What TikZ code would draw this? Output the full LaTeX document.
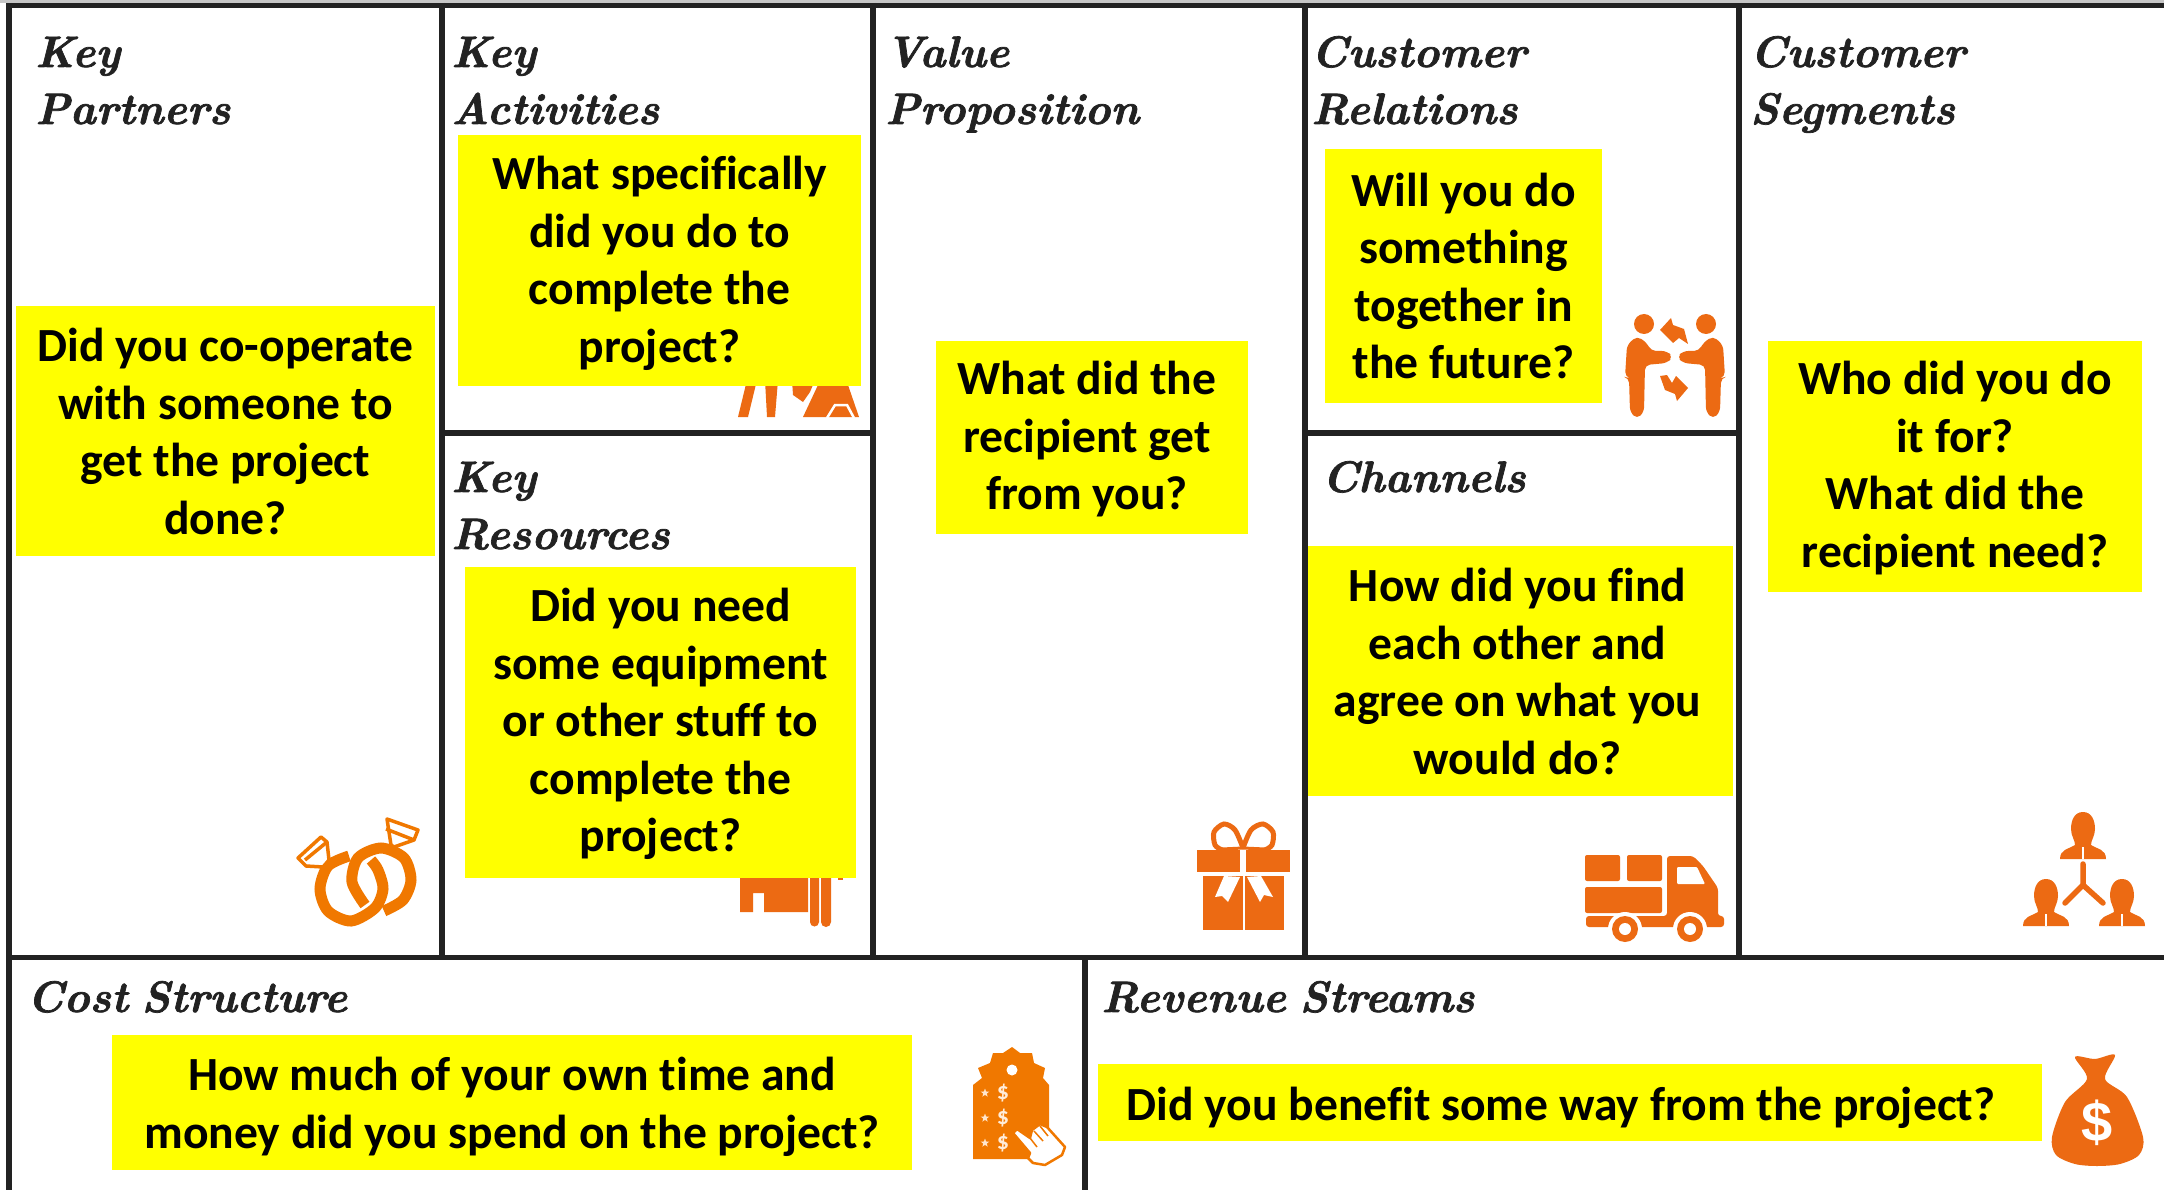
\documentclass[tikz,border=0pt]{standalone}
\usepackage{fontspec}
\usetikzlibrary{shapes.geometric}
\setsansfont{Carlito}[Ligatures=NoCommon]
\newfontfamily\headfont{lmroman10-bolditalic.otf}[WordSpace=0.75,FakeBold=1.6]
\definecolor{ora}{HTML}{EC6A13}
\definecolor{orb}{HTML}{F07800}
\definecolor{gridc}{HTML}{222222}
\definecolor{yel}{HTML}{FFFF00}
\tikzset{
  gridline/.style={draw=gridc,line width=5.5pt},
  yellowbox/.style={fill=yel,inner sep=0pt},
  boxtext/.style={align=center,inner sep=0pt,text=black,font=\sffamily\bfseries\fontsize{47.6}{57.5}\selectfont},
  heading/.style={anchor=base west,inner sep=0pt,xshift=-3pt,text=gridc,font=\headfont\fontsize{44}{58}\selectfont},
  ringline/.style={draw=orb,line width=11pt},
  gemline/.style={draw=orb,line width=3.5pt,line join=round,fill=white},
}
\begin{document}
\begin{tikzpicture}[x=1pt,y=-1pt]
\useasboundingbox (0,0) rectangle (2164,1190);
\fill[white] (0,0) rectangle (2164,1190);
\fill[gray!45] (0,0) rectangle (2164,3);
% ---------- icons ----------
% rings
\draw[ringline] plot[smooth] coordinates {(349,856) (328,866) (320,889) (328,911) (351,921) (375,908) (383,889) (378,870) (371,860)};
\draw[ringline] plot[smooth] coordinates {(365,905) (352,882) (358,858) (381,848) (404,858) (411,880) (403,900) (384,911)};
\draw[gemline] (298,858) -- (321,837) -- (327,842) -- (329,860) -- (323,867) -- (306,866) -- cycle;
\draw[orb,line width=3.5pt] (305,860) -- (327,842);
\draw[gemline] (387,819) -- (418,830) -- (414,840) -- (394,847) -- (391,845) -- cycle;
\draw[orb,line width=3.5pt] (386,829) -- (414,840);
% key activities icon
\fill[ora] (747,380) -- (757,380) -- (748,417) -- (738,417) -- cycle;
\fill[ora] (765,380) -- (778,380) -- (775,417) -- (767,417) -- cycle;
\fill[ora] (792,380) -- (793,395) -- (803,402) -- (810,392) -- (815,380) -- cycle;
\fill[ora] (803,417) -- (818,385) -- (848,385) -- (859,417) -- cycle;
\draw[white,line width=2.5pt] (827,418) -- (835,405) -- (847,405) -- (854,418);
% key resources icon
\fill[ora] (740,870) -- (808,870) -- (808,912) -- (764,912) -- (764,893) -- (753,893) -- (753,912) -- (740,912) -- cycle;
\fill[ora] (810,870) -- (819,870) -- (819,922) arc[start angle=0,end angle=180,radius=4.5] -- cycle;
\fill[ora] (821,870) -- (831,870) -- (831,922) arc[start angle=0,end angle=180,radius=5] -- cycle;
\fill[ora] (838,875) rectangle (843,880);
% gift
\fill[ora] (1197,850) rectangle (1240,872);
\fill[ora] (1246,850) rectangle (1290,872);
\fill[ora] (1203,876) rectangle (1243,930);
\fill[ora] (1245,876) rectangle (1284,930);
\fill[white] (1224,876) -- (1215,897) -- (1222,896) -- (1228,902) -- (1240,877) -- cycle;
\fill[white] (1261,876) -- (1273,897) -- (1264,895) -- (1260,902) -- (1247,877) -- cycle;
\draw[ora,line width=5pt] plot[smooth] coordinates {(1243,848) (1235,830) (1224,824) (1214,832) (1215,845) (1222,850)};
\draw[ora,line width=5pt] plot[smooth] coordinates {(1243,848) (1251,830) (1263,824) (1273,832) (1272,845) (1265,850)};
\draw[ora,line width=3pt] (1243,848) -- (1222,849);
\draw[ora,line width=3pt] (1243,848) -- (1265,849);
% truck
\fill[ora,rounded corners=2pt] (1585,855) rectangle (1620,881);
\fill[ora,rounded corners=2pt] (1627,855) rectangle (1662,881);
\fill[ora,rounded corners=2pt] (1585,887) rectangle (1662,913);
\fill[ora,rounded corners=3pt] (1667,856) -- (1693,856) -- (1703,866) -- (1718,888) -- (1718,916) -- (1724,916) -- (1724,927) -- (1586,927) -- (1586,916) -- (1667,916) -- cycle;
\fill[white,rounded corners=1pt] (1677,867) -- (1697,867) -- (1705,884) -- (1677,884) -- cycle;
\foreach \cx in {1625,1690}{
  \fill[white] (\cx,929) circle[radius=17];
  \fill[ora] (\cx,929) circle[radius=13];
  \fill[white] (\cx,929) circle[radius=6];
}
% segments
\foreach \cx/\cy in {2083/812,2046/879,2122/879}{
  \begin{scope}[shift={(\cx,\cy)}]
    \fill[ora] (0,0) .. controls (9,0) and (12,9) .. (12,17) .. controls (12,24) and (8,28) .. (8,33)
      .. controls (14,37) and (23,37) .. (23,47) -- (-23,47) .. controls (-23,37) and (-14,37) .. (-8,33)
      .. controls (-8,28) and (-12,24) .. (-12,17) .. controls (-12,9) and (-9,0) .. (0,0) -- cycle;
    \draw[white,line width=1.5pt] (0,35) -- (0,47);
  \end{scope}
}
\draw[ora,line width=5.5pt,line cap=round,line join=round] (2083,864) -- (2083,885) -- (2065,903);
\draw[ora,line width=5.5pt,line cap=round,line join=round] (2083,885) -- (2103,903);
% handshake
\foreach \m/\o in {1/0,-1/3350}{
  \begin{scope}[shift={(\o,0)},xscale=\m]
    \fill[ora] (1644,324) circle[radius=10];
    \fill[ora,rounded corners=5pt] (1625,377) -- (1627,345) -- (1637,336) -- (1647,343) -- (1651,351) -- (1667,351) -- (1673,357) -- (1667,363) -- (1645,365) -- (1644,412) -- (1637,419) -- (1630,412) -- (1629,378) -- cycle;
  \end{scope}
}
\fill[ora] (1660,330) -- (1671,318) -- (1673,325) -- (1684,329) -- (1688,344) -- (1679,338) -- (1673,343) -- cycle;
\fill[ora] (1660,376) -- (1667,375) -- (1672,383) -- (1676,376) -- (1688,388) -- (1677,401) -- (1675,394) -- (1665,390) -- cycle;
% price tag
\fill[orb] (973,1085) -- (982,1078) -- (978,1068) -- (990,1063) -- (993,1053) -- (1003,1053) -- (1012,1047) -- (1020,1053) -- (1032,1053) -- (1034,1063) -- (1045,1068) -- (1043,1078) -- (1049,1085) -- (1049,1159) -- (973,1159) -- cycle;
\fill[white] (1012,1070) circle[radius=5.5];
\foreach \yy/\nm in {1093/a,1118/b,1143/c}{
  \node[star,star points=5,star point ratio=2.4,fill=orange!20,inner sep=0pt,minimum size=9pt] (tagstar\nm) at (985,\yy) {};
  \node[text=orange!15,inner sep=0pt,font=\sffamily\bfseries\fontsize{24}{24}\selectfont] (tagusd\nm) at (1003,\yy) {\$};
}
\draw[orb,line width=2.5pt,fill=white,line join=round] (1013,1133) -- (1017,1129) -- (1030,1138) -- (1032,1130) -- (1040,1124) -- (1047,1127) -- (1065,1147) -- (1062,1155) -- (1045,1165) -- (1033,1163) -- (1028,1158) -- (1030,1153) -- cycle;
\draw[orb,line width=1.5pt] (1030,1138) -- (1037,1147) (1034,1131) -- (1043,1141) (1040,1126) -- (1048,1136);
% money bag
\fill[ora] plot[smooth cycle,tension=0.5] coordinates {(2075,1057) (2095,1059) (2115,1055) (2105,1079) (2127,1097) (2143,1137) (2139,1155) (2120,1164) (2097,1166) (2075,1164) (2056,1155) (2052,1137) (2065,1102) (2087,1079)};
\node[text=white,inner sep=0pt,font=\fontspec{Liberation Sans}\bfseries\fontsize{56}{56}\selectfont] (bagusd) at (2097,1123) {\$};
% ---------- grid ----------
\draw[gridline] (6,5.5) -- (2164,5.5);
\draw[gridline] (6,957.5) -- (2164,957.5);
\draw[gridline] (9,3) -- (9,1190);
\draw[gridline] (442,3) -- (442,957);
\draw[gridline] (873,3) -- (873,957);
\draw[gridline] (1305,3) -- (1305,957);
\draw[gridline] (1739,3) -- (1739,957);
\draw[gridline] (1085,957) -- (1085,1190);
\draw[gridline] (442,433) -- (873,433);
\draw[gridline] (1305,433) -- (1739,433);
% ---------- headings ----------
\node[heading] (h1a) at (38,67) {Key};
\node[heading] (h1b) at (38,124) {Partners};
\node[heading] (h2a) at (454,67) {Key};
\node[heading] (h2b) at (454,124) {Activities};
\node[heading] (h3a) at (888,67) {Value};
\node[heading] (h3b) at (888,124) {Proposition};
\node[heading] (h4a) at (1314,67) {Customer};
\node[heading] (h4b) at (1314,124) {Relations};
\node[heading] (h5a) at (1753,67) {Customer};
\node[heading] (h5b) at (1753,124) {Segments};
\node[heading] (h6a) at (454,492) {Key};
\node[heading] (h6b) at (454,549) {Resources};
\node[heading] (h7) at (1325,492) {Channels};
\node[heading] (h8) at (30,1012) {Cost Structure};
\node[heading] (h9) at (1104,1012) {Revenue Streams};
% ---------- yellow boxes ----------
\node[yellowbox,minimum width=419pt,minimum height=250pt] (kp) at (225.5,431) {};
\node[boxtext] (kpt) at (225.5,431.5) {Did you co-operate\\with someone to\\get the project\\done?};
\node[yellowbox,minimum width=403pt,minimum height=251pt] (ka) at (659.5,260.5) {};
\node[boxtext] (kat) at (659.5,263.5) {What specifically\\did you do to\\complete the\\project?};
\node[yellowbox,minimum width=391pt,minimum height=311pt] (kr) at (660.5,722.5) {};
\node[boxtext] (krt) at (660.5,724) {Did you need\\some equipment\\or other stuff to\\complete the\\project?};
\node[yellowbox,minimum width=312pt,minimum height=193pt] (vp) at (1092,437.5) {};
\node[boxtext] (vpt) at (1087,439.5) {What did the\\recipient get\\from you?};
\node[yellowbox,minimum width=277pt,minimum height=254pt] (cr) at (1463.5,276) {};
\node[boxtext] (crt) at (1463.5,276) {Will you do\\something\\together in\\the future?};
\node[yellowbox,minimum width=425pt,minimum height=250pt] (ch) at (1520.5,671) {};
\node[boxtext] (cht) at (1517.5,671.5) {How did you find\\each other and\\agree on what you\\would do?};
\node[yellowbox,minimum width=374pt,minimum height=251pt] (cs) at (1955,466.5) {};
\node[boxtext] (cst) at (1955,468) {Who did you do\\it for?\\What did the\\recipient need?};
\node[yellowbox,minimum width=800pt,minimum height=135pt] (cost) at (512,1102.5) {};
\node[boxtext] (costt) at (512,1107) {How much of your own time and\\money did you spend on the project?};
\node[yellowbox,minimum width=944pt,minimum height=77pt] (rev) at (1570,1102.5) {};
\node[boxtext] (revt) at (1561,1108) {Did you benefit some way from the project?};
\end{tikzpicture}
\end{document}
